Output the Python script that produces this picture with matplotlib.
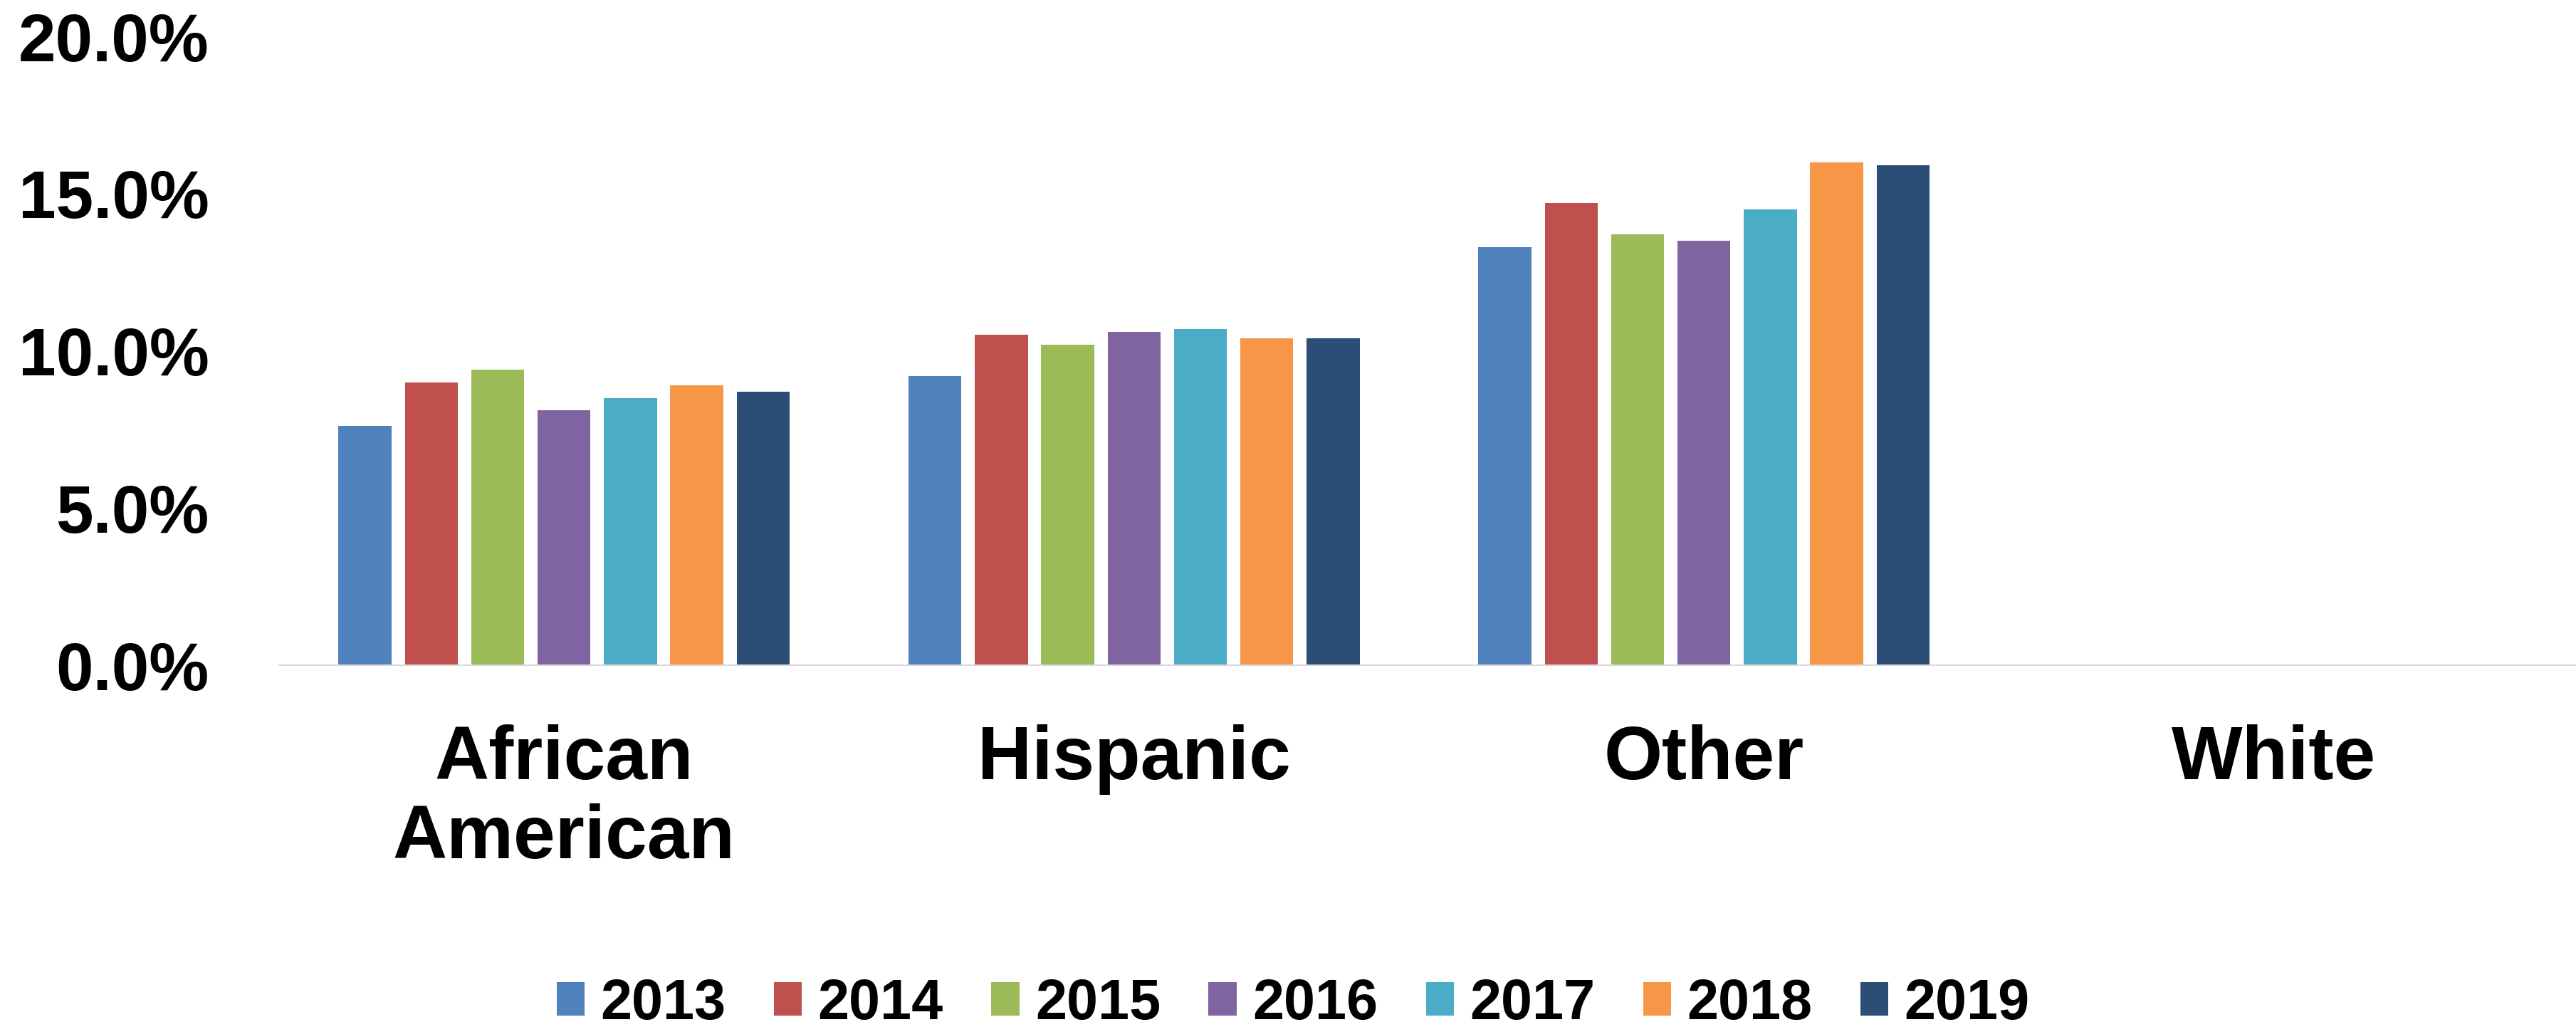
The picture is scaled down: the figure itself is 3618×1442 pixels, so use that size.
import matplotlib
matplotlib.use('Agg')
import matplotlib.pyplot as plt
from matplotlib.patches import Patch
from matplotlib.ticker import FuncFormatter
import numpy as np

plt.rcParams['font.family'] = ['Liberation Sans', 'DejaVu Sans']
plt.rcParams['font.weight'] = 'bold'

categories = ['African\nAmerican', 'Hispanic', 'Other', 'White']
years = ['2013', '2014', '2015', '2016', '2017', '2018', '2019']

# percent values, one list per year (White has no data)
v2013 = [7.6, 9.2, 13.3, 0.0]
v2014 = [9.0, 10.5, 14.7, 0.0]
v2015 = [9.4, 10.2, 13.7, 0.0]
v2016 = [8.1, 10.6, 13.5, 0.0]
v2017 = [8.5, 10.7, 14.5, 0.0]
v2018 = [8.9, 10.4, 16.0, 0.0]
v2019 = [8.7, 10.4, 15.9, 0.0]
series = [v2013, v2014, v2015, v2016, v2017, v2018, v2019]

colors = ['#4F81BD', '#C0504D', '#9BBB59', '#8064A2', '#4BACC6', '#F79646', '#2C4D75']

fig = plt.figure(figsize=(36.18, 14.42), dpi=100)
ax = fig.add_axes([392/3618, 1-934/1442, 1-392/3618, (934-51)/1442])

x = np.arange(len(categories))
step = 0.1164
width = 0.093
for i, (vals, c) in enumerate(zip(series, colors)):
    ax.bar(x + (i-3)*step, vals, width=width, color=c, linewidth=0)

ax.set_xlim(-0.5, 3.53)
ax.set_ylim(0, 20)
ax.set_yticks([0, 5, 10, 15, 20])
ax.yaxis.set_major_formatter(FuncFormatter(lambda v, p: '{:.1f}%'.format(v)))
ax.set_xticks(x)
ax.set_xticklabels(categories, fontsize=76, fontweight='bold', linespacing=1.15)
ax.tick_params(axis='y', length=0, pad=71, labelsize=68)
ax.tick_params(axis='x', length=0, pad=60)

for s in ['top', 'right', 'left']:
    ax.spines[s].set_visible(False)
ax.spines['bottom'].set_color('#D9D9D9')
ax.spines['bottom'].set_linewidth(1.5)

handles = [Patch(facecolor=c, edgecolor='none', label=y) for c, y in zip(colors, years)]
fig.legend(handles=handles, loc='center', bbox_to_anchor=(0.502, 1-1410/1442),
           ncol=7, frameon=False, fontsize=57, handlelength=0.5, handleheight=0.52,
           handletextpad=0.28, columnspacing=0.85, borderpad=0, borderaxespad=0)

fig.savefig('out.png', dpi=100)
